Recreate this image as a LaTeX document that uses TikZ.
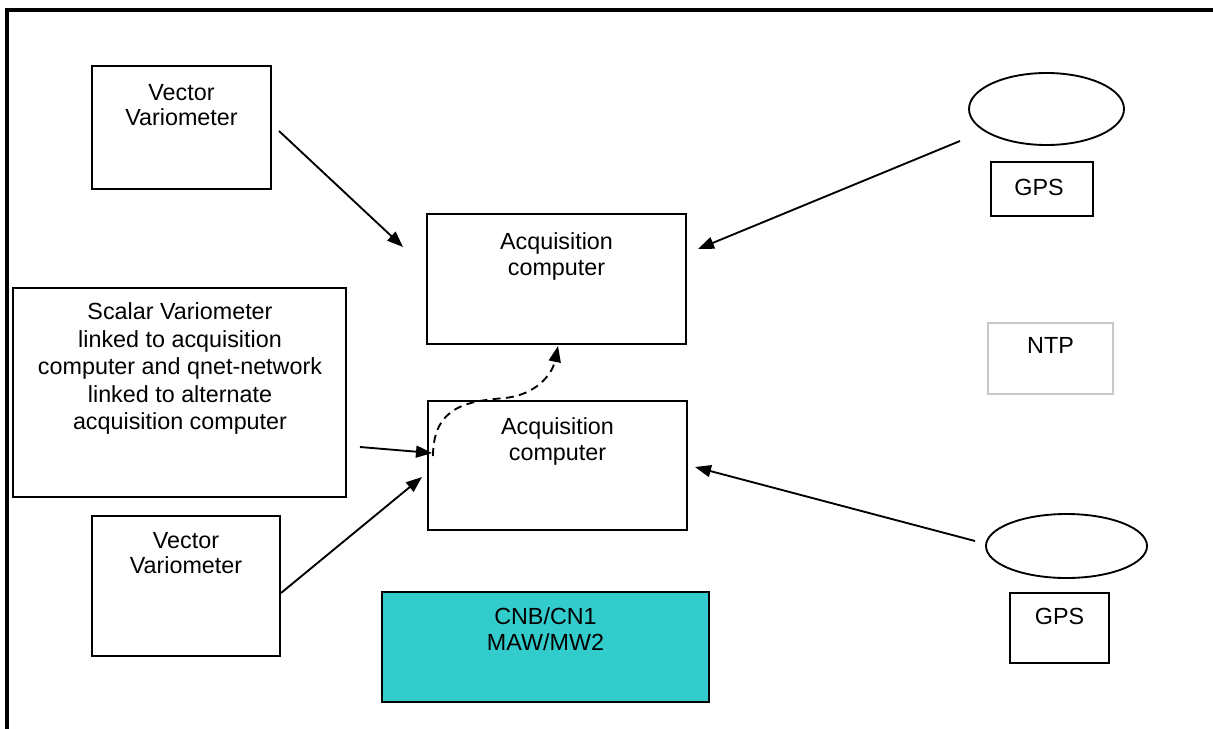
\documentclass[tikz,border=0pt]{standalone}
\usepackage{fontspec}
\setmainfont{Liberation Sans}
\usetikzlibrary{arrows.meta,shapes.geometric}
\definecolor{teal1}{HTML}{33CCCC}
\definecolor{ntpgray}{HTML}{C8C8C8}
\begin{document}
\begin{tikzpicture}[x=0.75pt,y=-0.75pt,
  box/.style={draw=black,line width=1.4pt,inner sep=0,outer sep=0},
  lbl/.style={inner sep=0,outer sep=0,align=center,anchor=north,font=\fontsize{17.5pt}{19.2pt}\selectfont},
  widelbl/.style={lbl,font=\fontsize{17.5pt}{20.6pt}\selectfont},
  arr/.style={line width=1.4pt,-{Triangle[length=12pt,width=9pt]}},
  darr/.style={line width=1.4pt,dash pattern=on 6pt off 4pt,-{Triangle[length=12pt,width=9pt]}}]
\useasboundingbox (0,0) rectangle (1213,728);
\fill[white] (0,0) rectangle (1213,728);
% outer frame
\draw[line width=2.3pt] (7,740) -- (7,10) -- (1225,10);
% boxes
\node[box,minimum width=179*0.75pt,minimum height=123*0.75pt] (vv1) at (181.5,127.5) {};
\node[lbl] (vv1t) at (181.5,84) {Vector\\Variometer};
\node[box,minimum width=259*0.75pt,minimum height=130*0.75pt] (acq1) at (556.5,279) {};
\node[lbl] (acq1t) at (556.5,233) {Acquisition\\computer};
\node[box,ellipse,minimum width=155*0.75pt,minimum height=72*0.75pt] (el1) at (1046.5,109) {};
\node[box,minimum width=102*0.75pt,minimum height=54*0.75pt] (gps1) at (1042,189) {};
\node[lbl] (gps1t) at (1039,179) {GPS};
\node[box,draw=ntpgray,line width=1.5pt,minimum width=125*0.75pt,minimum height=71*0.75pt] (ntp) at (1050.5,358.5) {};
\node[lbl] (ntpt) at (1050.5,337) {NTP};
\node[box,minimum width=333*0.75pt,minimum height=209*0.75pt] (sv) at (179.5,392.5) {};
\node[widelbl] (svt) at (180,303) {Scalar Variometer\\linked to acquisition\\computer and qnet-network\\linked to alternate\\acquisition computer};
\node[box,minimum width=259*0.75pt,minimum height=129*0.75pt] (acq2) at (557.5,465.5) {};
\node[lbl] (acq2t) at (557.5,418) {Acquisition\\computer};
\node[box,minimum width=188*0.75pt,minimum height=140*0.75pt] (vv2) at (186,586) {};
\node[lbl] (vv2t) at (186,532) {Vector\\Variometer};
\node[box,fill=teal1,minimum width=327*0.75pt,minimum height=110*0.75pt] (cnb) at (545.5,647) {};
\node[lbl] (cnbt) at (545.5,608) {CNB/CN1\\MAW/MW2};
\node[box,ellipse,minimum width=161*0.75pt,minimum height=64*0.75pt] (el2) at (1066.5,546) {};
\node[box,minimum width=99*0.75pt,minimum height=70*0.75pt] (gps2) at (1059.5,628) {};
\node[lbl] (gps2t) at (1059.5,608) {GPS};
% connector ends
\coordinate (a1s) at (279,131);
\coordinate (a1e) at (403,247);
\coordinate (a2s) at (960,141);
\coordinate (a2e) at (698,249);
\coordinate (a3s) at (360,447);
\coordinate (a3e) at (432,453);
\coordinate (a4s) at (281,593);
\coordinate (a4e) at (422,477);
\coordinate (a5s) at (975,541);
\coordinate (a5e) at (695,467);
\coordinate (d1s) at (433,456);
\coordinate (d1m) at (505,398);
\coordinate (d1e) at (558,346);
\draw[arr] (a1s) -- (a1e);
\draw[arr] (a2s) -- (a2e);
\draw[arr] (a3s) -- (a3e);
\draw[arr] (a4s) -- (a4e);
\draw[arr] (a5s) -- (a5e);
\draw[darr] (d1s) .. controls (433,405) and (470,401) .. (d1m) .. controls (535,395) and (552,375) .. (d1e);
\end{tikzpicture}
\end{document}
